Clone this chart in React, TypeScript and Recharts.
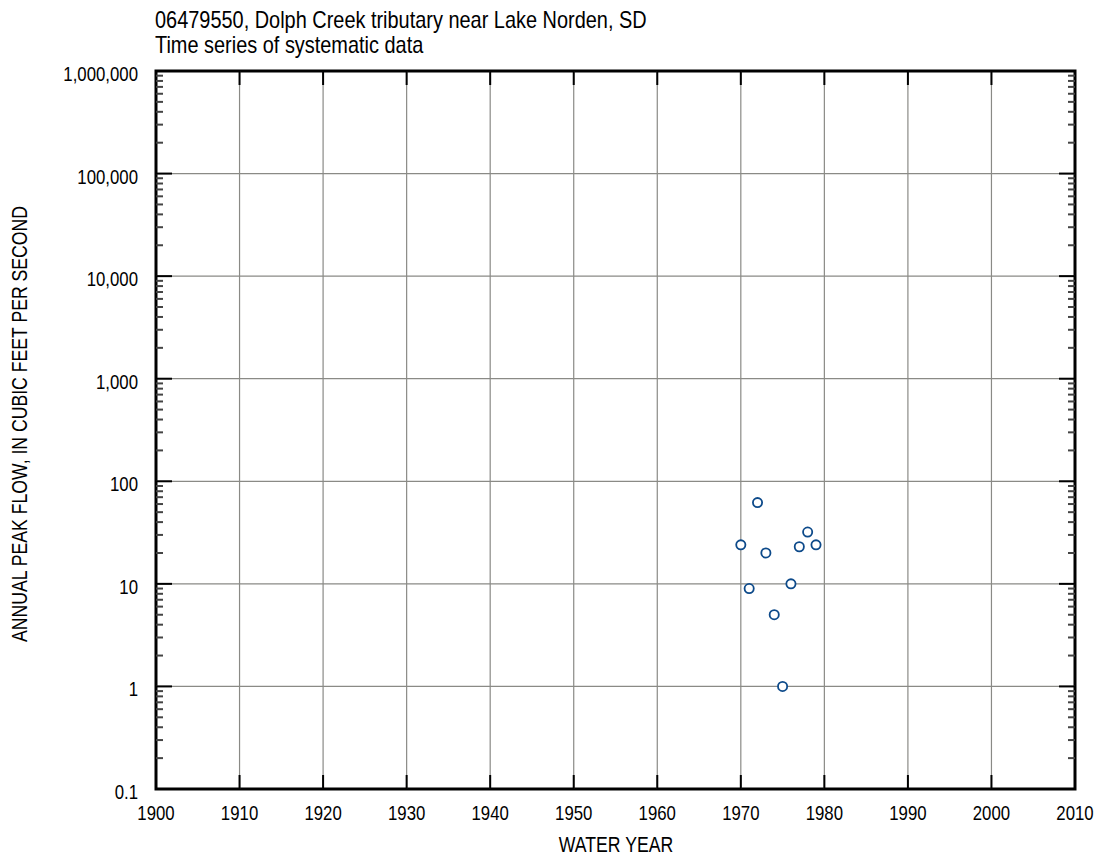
import React from 'react';
import {
  ComposedChart,
  Scatter,
  XAxis,
  YAxis,
  ReferenceLine,
  ReferenceArea,
} from 'recharts';

const FONT = "'Liberation Sans Narrow', 'Arial Narrow', 'Liberation Sans', sans-serif";

const years = [1970, 1971, 1972, 1973, 1974, 1975, 1976, 1977, 1978, 1979];
const peakFlow = [24, 9, 62, 20, 5, 1, 10, 23, 32, 24];

const yearTicks = [1900, 1910, 1920, 1930, 1940, 1950, 1960, 1970, 1980, 1990, 2000, 2010];
const flowTicks = [0.1, 1, 10, 100, 1000, 10000, 100000, 1000000];
const flowLabels = ['0.1', '1', '10', '100', '1,000', '10,000', '100,000', '1,000,000'];
const minorSteps = [2, 3, 4, 5, 6, 7, 8, 9];

const data = years.map((year, i) => ({ year, flow: peakFlow[i] }));

// minor log ticks, every decade except the top one
const minorTicks: number[] = [];
flowTicks.slice(0, -1).forEach((d) => minorSteps.forEach((m) => minorTicks.push(m * d)));
const allFlowTicks = [...flowTicks, ...minorTicks];

const isMajor = (v: number) => flowTicks.includes(v);

// the original uses a condensed face; squeeze the regular one horizontally
const SQUEEZE = 0.84;

const LeftTick = (props: any) => {
  const { x, y, payload } = props;
  const v = payload.value;
  const major = isMajor(v);
  const idx = flowTicks.indexOf(v);
  return (
    <g>
      <line x1={x} x2={x + (major ? 16 : 7)} y1={y} y2={y} stroke={major ? '#000' : '#444'} strokeWidth={2} />
      {major && (
        <text
          transform={`translate(${x - 18},${y + 10}) scale(${SQUEEZE},1)`}
          textAnchor="end"
          fontSize={20}
          fill="#000"
          fontFamily={FONT}
        >
          {flowLabels[idx]}
        </text>
      )}
    </g>
  );
};

const RightTick = (props: any) => {
  const { x, y, payload } = props;
  const major = isMajor(payload.value);
  return <line x1={x} x2={x - (major ? 16 : 7)} y1={y} y2={y} stroke={major ? '#000' : '#444'} strokeWidth={2} />;
};

const BottomTick = (props: any) => {
  const { x, y, payload } = props;
  return (
    <g>
      <line x1={x} x2={x} y1={y} y2={y - 14} stroke="#000" strokeWidth={2} />
      <text
        transform={`translate(${x},${y + 31}) scale(${SQUEEZE},1)`}
        textAnchor="middle"
        fontSize={20}
        fill="#000"
        fontFamily={FONT}
      >
        {payload.value}
      </text>
    </g>
  );
};

const TopTick = (props: any) => {
  const { x, y } = props;
  return <line x1={x} x2={x} y1={y} y2={y + 14} stroke="#000" strokeWidth={2} />;
};

const Dot = (p: any) => (
  <circle cx={p.cx} cy={p.cy} r={4.6} fill="#fff" stroke="#0d4a8a" strokeWidth={1.8} />
);

const titleLine: React.CSSProperties = {
  position: 'absolute',
  left: 155,
  fontSize: 24,
  lineHeight: '24px',
  whiteSpace: 'nowrap',
  transform: 'scaleX(0.83)',
  transformOrigin: 'left top',
};

export default function App() {
  return (
    <div
      style={{
        position: 'absolute',
        left: 0,
        top: 0,
        width: 1102,
        height: 856,
        background: '#fff',
        fontFamily: FONT,
        color: '#000',
      }}
    >
      <div style={{ ...titleLine, top: 8 }}>06479550, Dolph Creek tributary near Lake Norden, SD</div>
      <div style={{ ...titleLine, top: 33 }}>Time series of systematic data</div>
      <div
        style={{
          position: 'absolute',
          left: 20,
          top: 424,
          fontSize: 21.5,
          whiteSpace: 'nowrap',
          transform: 'translate(-50%, -50%) rotate(-90deg) scaleX(0.82)',
        }}
      >
        ANNUAL PEAK FLOW, IN CUBIC FEET PER SECOND
      </div>
      <div
        style={{
          position: 'absolute',
          left: 616,
          top: 845,
          fontSize: 21.5,
          whiteSpace: 'nowrap',
          transform: 'translate(-50%, -50%) scaleX(0.82)',
        }}
      >
        WATER YEAR
      </div>
      <ComposedChart
        width={1102}
        height={856}
        data={data}
        margin={{ top: 0, right: 0, bottom: 0, left: 0 }}
        style={{ position: 'absolute', left: 0, top: 0 }}
      >
        <XAxis
          xAxisId="b"
          dataKey="year"
          type="number"
          domain={[1900, 2010]}
          ticks={yearTicks}
          interval={0}
          orientation="bottom"
          height={67}
          axisLine={false}
          tickLine={false}
          tickSize={0}
          tickMargin={0}
          tick={<BottomTick />}
        />
        <XAxis
          xAxisId="t"
          dataKey="year"
          type="number"
          domain={[1900, 2010]}
          ticks={yearTicks}
          interval={0}
          orientation="top"
          height={71}
          axisLine={false}
          tickLine={false}
          tickSize={0}
          tickMargin={0}
          tick={<TopTick />}
        />
        <YAxis
          yAxisId="l"
          dataKey="flow"
          type="number"
          scale="log"
          domain={[0.1, 1000000]}
          ticks={allFlowTicks}
          interval={0}
          orientation="left"
          width={156}
          axisLine={false}
          tickLine={false}
          tickSize={0}
          tickMargin={0}
          tick={<LeftTick />}
          allowDataOverflow
        />
        <YAxis
          yAxisId="r"
          type="number"
          scale="log"
          domain={[0.1, 1000000]}
          ticks={allFlowTicks}
          interval={0}
          orientation="right"
          width={27}
          axisLine={false}
          tickLine={false}
          tickSize={0}
          tickMargin={0}
          tick={<RightTick />}
          allowDataOverflow
        />
        {flowTicks.slice(1, -1).map((v) => (
          <ReferenceLine key={'h' + v} xAxisId="b" yAxisId="l" y={v} stroke="#8a8a86" strokeWidth={1.2} />
        ))}
        {yearTicks.slice(1, -1).map((v) => (
          <ReferenceLine key={'v' + v} xAxisId="b" yAxisId="l" x={v} stroke="#8a8a86" strokeWidth={1.2} />
        ))}
        <ReferenceArea
          xAxisId="b"
          yAxisId="l"
          x1={1900}
          x2={2010}
          y1={0.1}
          y2={1000000}
          fill="none"
          fillOpacity={0}
          stroke="#000"
          strokeWidth={3}
        />
        <Scatter xAxisId="b" yAxisId="l" dataKey="flow" shape={<Dot />} isAnimationActive={false} />
      </ComposedChart>
    </div>
  );
}
